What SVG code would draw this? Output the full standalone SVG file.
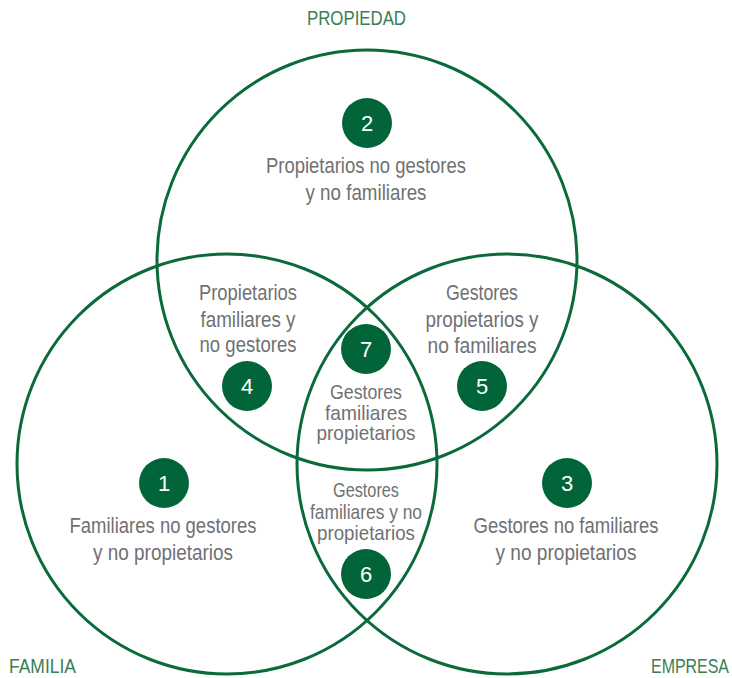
<svg xmlns="http://www.w3.org/2000/svg" width="732" height="678" viewBox="0 0 732 678">
  <style>
    .set { fill: none; stroke: #0a6a3a; stroke-width: 3; }
    .badge { fill: #02653a; }
    .num { font-family: "Liberation Sans", "DejaVu Sans", sans-serif; font-size: 22px; fill: #ffffff; text-anchor: middle; }
    .txt { font-family: "Liberation Sans", "DejaVu Sans", sans-serif; font-size: 22px; fill: #707173; text-anchor: middle; }
    .tight { font-size: 21px; }
    .lbl { font-family: "Liberation Sans", "DejaVu Sans", sans-serif; font-size: 21px; fill: #3b7e53; }
  </style>
  <rect width="732" height="678" fill="#ffffff"/>

  <!-- the three overlapping sets -->
  <g id="sets">
    <circle class="set" cx="367" cy="260" r="210"/>
    <circle class="set" cx="227" cy="464" r="210"/>
    <circle class="set" cx="507" cy="464" r="210"/>
  </g>

  <!-- set names -->
  <g id="set-labels">
    <text class="lbl" x="307" y="25" textLength="99" lengthAdjust="spacingAndGlyphs">PROPIEDAD</text>
    <text class="lbl" x="9" y="673" textLength="67" lengthAdjust="spacingAndGlyphs">FAMILIA</text>
    <text class="lbl" x="651" y="673" textLength="78" lengthAdjust="spacingAndGlyphs">EMPRESA</text>
  </g>

  <g id="region-1">
    <circle class="badge" cx="164" cy="483" r="25"/>
    <text class="num" x="164" y="491">1</text>
    <text class="txt" x="163" y="533" textLength="187" lengthAdjust="spacingAndGlyphs">Familiares no gestores</text>
    <text class="txt" x="163" y="560" textLength="140" lengthAdjust="spacingAndGlyphs">y no propietarios</text>
  </g>

  <g id="region-2">
    <circle class="badge" cx="367" cy="123" r="25"/>
    <text class="num" x="367" y="131">2</text>
    <text class="txt" x="366" y="173" textLength="200" lengthAdjust="spacingAndGlyphs">Propietarios no gestores</text>
    <text class="txt" x="366" y="200" textLength="121" lengthAdjust="spacingAndGlyphs">y no familiares</text>
  </g>

  <g id="region-3">
    <circle class="badge" cx="567" cy="483" r="25"/>
    <text class="num" x="567" y="491">3</text>
    <text class="txt" x="566" y="533" textLength="185" lengthAdjust="spacingAndGlyphs">Gestores no familiares</text>
    <text class="txt" x="566" y="560" textLength="141" lengthAdjust="spacingAndGlyphs">y no propietarios</text>
  </g>

  <g id="region-4">
    <text class="txt" x="248" y="300" textLength="98" lengthAdjust="spacingAndGlyphs">Propietarios</text>
    <text class="txt" x="248" y="327" textLength="95" lengthAdjust="spacingAndGlyphs">familiares y</text>
    <text class="txt" x="248" y="352" textLength="97" lengthAdjust="spacingAndGlyphs">no gestores</text>
    <circle class="badge" cx="247" cy="386" r="25"/>
    <text class="num" x="247" y="394">4</text>
  </g>

  <g id="region-5">
    <text class="txt" x="482" y="300" textLength="72" lengthAdjust="spacingAndGlyphs">Gestores</text>
    <text class="txt" x="482" y="327" textLength="113" lengthAdjust="spacingAndGlyphs">propietarios y</text>
    <text class="txt" x="482" y="353" textLength="109" lengthAdjust="spacingAndGlyphs">no familiares</text>
    <circle class="badge" cx="482" cy="386" r="25"/>
    <text class="num" x="482" y="394">5</text>
  </g>

  <g id="region-6">
    <text class="txt tight" x="366" y="497" textLength="66" lengthAdjust="spacingAndGlyphs">Gestores</text>
    <text class="txt tight" x="366" y="519" textLength="112" lengthAdjust="spacingAndGlyphs">familiares y no</text>
    <text class="txt tight" x="366" y="540" textLength="98" lengthAdjust="spacingAndGlyphs">propietarios</text>
    <circle class="badge" cx="366" cy="574" r="25"/>
    <text class="num" x="366" y="582">6</text>
  </g>

  <g id="region-7">
    <circle class="badge" cx="366" cy="349" r="25"/>
    <text class="num" x="366" y="357">7</text>
    <text class="txt tight" x="366" y="399" textLength="72" lengthAdjust="spacingAndGlyphs">Gestores</text>
    <text class="txt tight" x="366" y="420" textLength="82" lengthAdjust="spacingAndGlyphs">familiares</text>
    <text class="txt tight" x="366" y="440" textLength="99" lengthAdjust="spacingAndGlyphs">propietarios</text>
  </g>
</svg>
